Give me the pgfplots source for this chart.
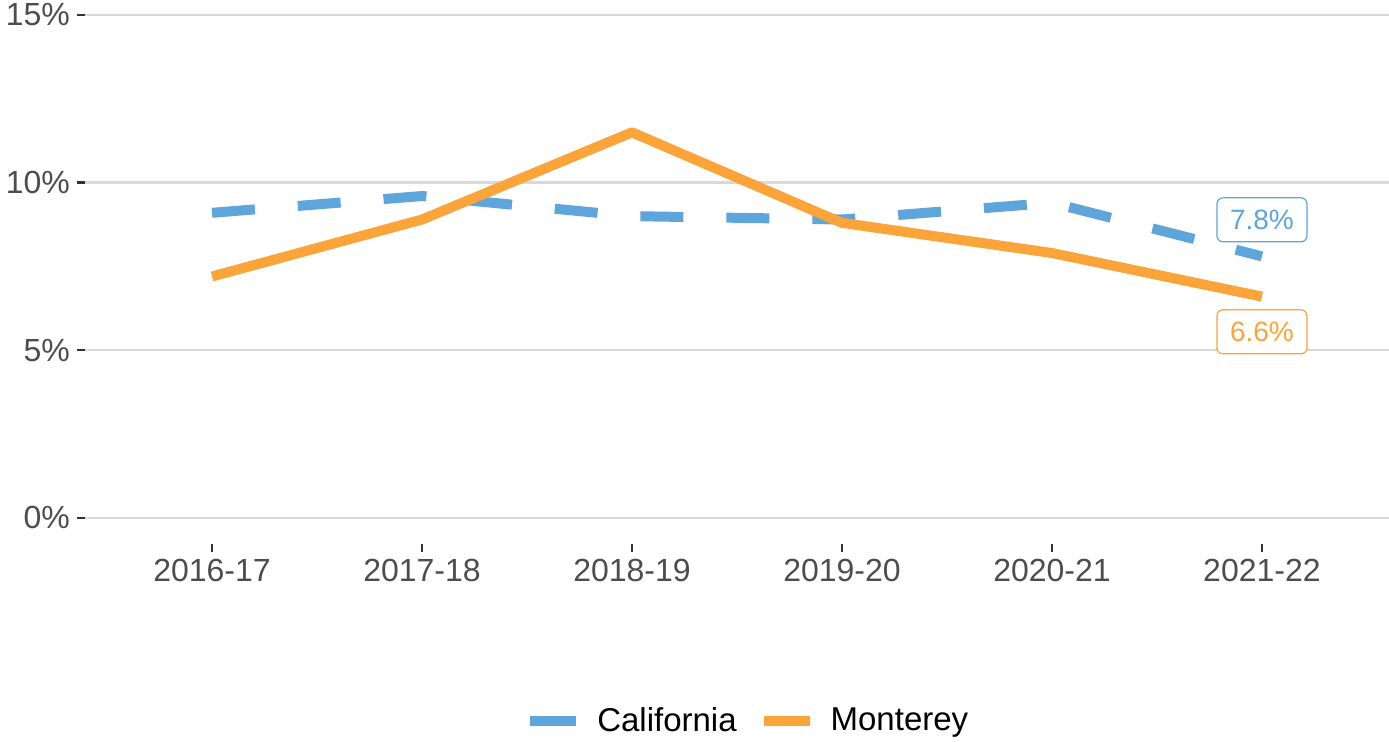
\documentclass[border=0pt]{standalone}
\usepackage{fontspec}
\setmainfont{Liberation Sans}
\usepackage{pgfplots}
\pgfplotsset{compat=1.18}

\definecolor{cablue}{RGB}{93,165,218}
\definecolor{mtorange}{RGB}{250,164,58}
\definecolor{gridgray}{RGB}{217,217,217}
\definecolor{ticktext}{RGB}{77,77,77}

\begin{document}
\begin{tikzpicture}
  \useasboundingbox (-42.5pt,-98.5pt) rectangle (652pt,272pt);
  \begin{axis}[
      scale only axis,
      width=652pt, height=264.5pt,
      clip=false,
      xmin=-0.605, xmax=5.605,
      ymin=-0.78, ymax=15,
      axis lines*=left,
      axis line style={draw=none},
      tick align=outside,
      major tick length=4pt,
      tick style={black!80, line width=1.2pt},
      xtick={0,1,2,3,4,5},
      xticklabels={2016-17,2017-18,2018-19,2019-20,2020-21,2021-22},
      ytick={0,5,10,15},
      yticklabels={0\%,5\%,10\%,15\%},
      tick label style={font=\fontsize{16}{19}\selectfont, text=ticktext},
      ymajorgrids=true,
      grid style={gridgray, line width=1.2pt},
      legend columns=2,
      legend style={at={(0.509,-0.3346)}, anchor=center, draw=none, fill=none,
                    font=\fontsize{16.5}{20}\selectfont,
                    /tikz/every odd column/.append style={column sep=6pt},
                    /tikz/every even column/.append style={column sep=9pt}},
      legend cell align=left,
      legend image code/.code={\draw[#1, solid] (0pt,0pt) -- (23pt,0pt);},
    ]

    % California
    \addplot[cablue, line width=5pt, line cap=butt, line join=round,
             dash pattern=on 21.5pt off 21.5pt]
      coordinates {(0,9.1)(1,9.6)(2,9.0)(3,8.9)(4,9.4)(5,7.8)};
    \addlegendentry{California}

    % Monterey
    \addplot[mtorange, line width=5pt, line cap=butt, line join=round]
      coordinates {(0,7.2)(1,8.9)(2,11.5)(3,8.8)(4,7.9)(5,6.6)};
    \addlegendentry{Monterey}

    \node[draw=cablue, text=cablue, fill=white, rounded corners=3pt, line width=0.6pt,
          minimum width=45pt, minimum height=22pt, inner sep=0pt,
          font=\fontsize{14}{16}\selectfont]
      at (axis cs:5,8.89) {7.8\%};
    \node[draw=mtorange, text=mtorange, fill=white, rounded corners=3pt, line width=0.6pt,
          minimum width=45pt, minimum height=22pt, inner sep=0pt,
          font=\fontsize{14}{16}\selectfont]
      at (axis cs:5,5.55) {6.6\%};
  \end{axis}
\end{tikzpicture}
\end{document}
